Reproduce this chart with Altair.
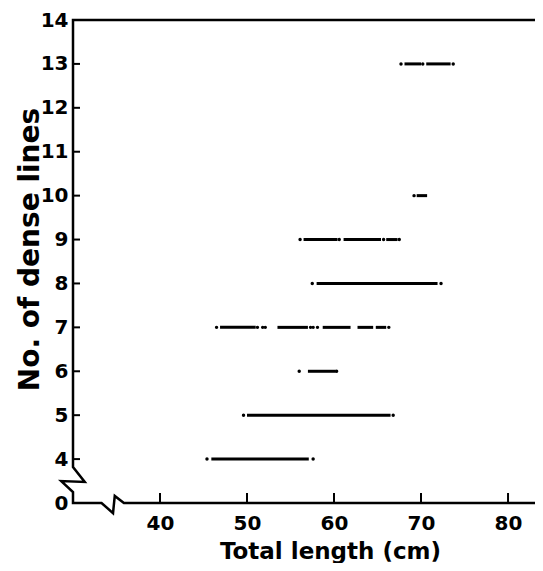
import altair as alt
import pandas as pd

# Horizontal dense segments (level, start cm, end cm)
seg_level = [13, 13, 10, 9, 9, 9, 8, 7, 7, 7, 7, 7, 6, 5, 4]
seg_start = [68.1, 70.6, 69.5, 56.5, 61.1, 66.0, 58.0, 46.9, 53.5, 58.7, 62.7, 64.8, 57.0, 50.0, 45.9]
seg_end = [70.0, 73.4, 70.7, 60.4, 65.4, 67.3, 71.9, 51.0, 57.0, 61.9, 64.5, 66.0, 60.2, 66.5, 57.1]

# Isolated dots
dot_level = [13, 13, 13, 10, 9, 9, 9, 9, 8, 8, 7, 7, 7, 7, 7, 7, 7, 7, 6, 6, 5, 5, 4, 4]
dot_x = [67.7, 70.2, 73.7, 69.2, 56.1, 60.6, 65.7, 67.5, 57.5, 72.3, 46.5, 51.2, 51.8,
         52.1, 57.3, 57.6, 58.1, 66.3, 56.0, 60.3, 49.6, 66.8, 45.4, 57.6]

# Axis frame with breaks (data units)
frame_x = [83.1, 30, 30, 31.35, 28.65, 30, 30, 33.28, 34.6, 34.8, 35.85, 83.1]
frame_y = [14, 14, 3.82, 3.48, 3.50, 3.25, 3.0, 3.0, 2.77, 3.16, 3.0, 3.0]

x_ticks = [40, 50, 60, 70, 80]
y_ticks = [4, 5, 6, 7, 8, 9, 10, 11, 12, 13]
y_label_values = [3, 4, 5, 6, 7, 8, 9, 10, 11, 12, 13, 14]

FONT = "DejaVu Sans"
xs = alt.Scale(domain=[30, 83.1], nice=False, zero=False)
ys = alt.Scale(domain=[3, 14], nice=False, zero=False)

x_axis = alt.Axis(
    values=x_ticks, domain=False, ticks=False, grid=False,
    labelFont=FONT, labelFontSize=20, labelFontWeight="bold", labelColor="black",
    labelPadding=10,
    title="Total length (cm)", titleFont=FONT, titleFontSize=23, titleFontWeight="bold",
    titleColor="black", titleX=257, titleY=55, titleBaseline="alphabetic")
y_axis = alt.Axis(
    values=y_label_values, domain=False, ticks=False, grid=False,
    labelExpr="datum.value == 3 ? '0' : datum.label",
    labelFont=FONT, labelFontSize=20, labelFontWeight="bold", labelColor="black",
    labelPadding=5,
    title="No. of dense lines", titleFont=FONT, titleFontSize=28, titleFontWeight="bold",
    titleColor="black", titleX=-35, titleY=229, titleBaseline="alphabetic")

segs = pd.DataFrame({"level": seg_level, "start": seg_start, "end": seg_end})
dots = pd.DataFrame({"level": dot_level, "x": dot_x})
frame = pd.DataFrame({"x": frame_x, "y": frame_y, "i": list(range(len(frame_x)))})
xt = pd.DataFrame({"t": x_ticks})
yt = pd.DataFrame({"t": y_ticks})

base = alt.Chart(dots).mark_circle(size=12, color="black", opacity=1).encode(
    x=alt.X("x:Q", scale=xs, axis=x_axis),
    y=alt.Y("level:Q", scale=ys, axis=y_axis),
)

seg_layer = alt.Chart(segs).mark_rule(color="black", strokeWidth=3).encode(
    x=alt.X("start:Q", scale=xs, axis=x_axis),
    x2="end:Q",
    y=alt.Y("level:Q", scale=ys, axis=y_axis),
)

frame_layer = alt.Chart(frame).mark_line(color="black", strokeWidth=2.5).encode(
    x=alt.X("x:Q", scale=xs, axis=x_axis),
    y=alt.Y("y:Q", scale=ys, axis=y_axis),
    order="i:Q",
)

ytick_layer = alt.Chart(yt).mark_rule(color="black", strokeWidth=2).encode(
    x=alt.value(0), x2=alt.value(7),
    y=alt.Y("t:Q", scale=ys, axis=y_axis),
)

xtick_layer = alt.Chart(xt).mark_rule(color="black", strokeWidth=2).encode(
    x=alt.X("t:Q", scale=xs, axis=x_axis),
    y=alt.value(483), y2=alt.value(473),
)

chart = alt.layer(base, seg_layer, frame_layer, ytick_layer, xtick_layer).properties(
    width=462, height=483,
    autosize=alt.AutoSizeParams(type="none"),
    padding={"left": 65, "top": 12, "right": 0, "bottom": 60},
).configure_view(stroke=None)

chart.save("out.html", embed_options={"renderer": "svg", "actions": False})
